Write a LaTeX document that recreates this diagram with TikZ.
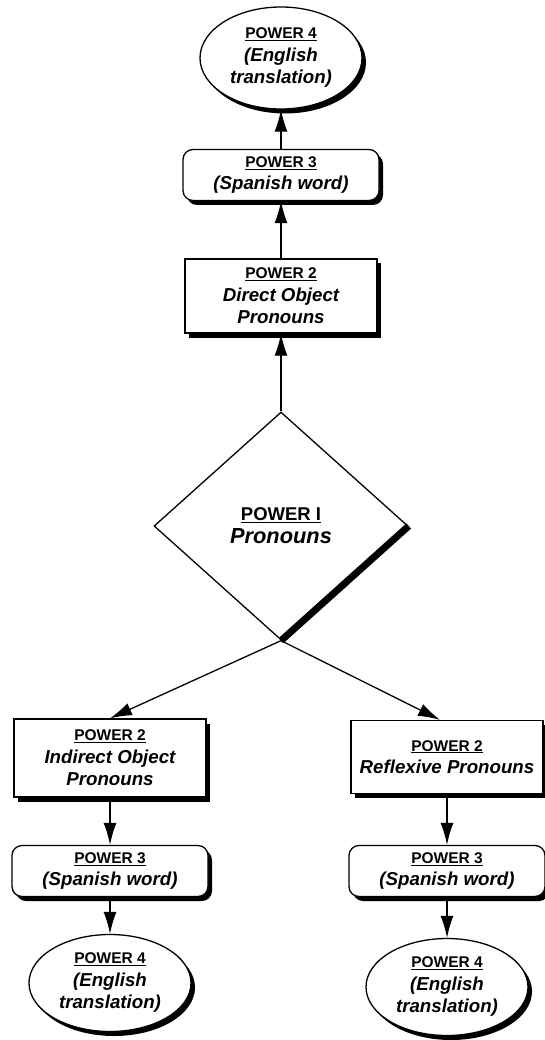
\documentclass[tikz,border=0pt]{standalone}
\usepackage{fontspec}
\setmainfont{Liberation Sans}
\usepackage{tikz}
\usetikzlibrary{shapes, arrows.meta, shadows}
\newcommand{\subfont}{\fontsize{18.7}{22.5}\selectfont\bfseries\itshape}
\newcommand{\powerlabel}[1]{{\upshape\bfseries\fontsize{15.5}{22.5}\selectfont\underline{#1}}}
\tikzstyle{boxshadow} = [drop shadow={shadow xshift=4pt, shadow yshift=-4.5pt, fill=black, opacity=1}]
\tikzstyle{pone} = [diamond, draw, fill=white, line width=1.3pt, minimum width=254pt, minimum height=228pt, inner sep=0pt, align=center]
\tikzstyle{ptwo} = [rectangle, draw, fill=white, line width=1.3pt, minimum width=192pt, minimum height=74pt, inner sep=0pt, align=center, font=\subfont, boxshadow]
\tikzstyle{pthree} = [rectangle, rounded corners=10pt, draw, fill=white, line width=1.3pt, minimum width=196pt, minimum height=51pt, inner sep=0pt, align=center, font=\subfont, boxshadow]
\tikzstyle{pfour} = [ellipse, draw, fill=white, line width=1.3pt, minimum width=162pt, minimum height=102pt, inner sep=0pt, align=center, font=\subfont, boxshadow]
\tikzstyle{line} = [draw, line width=1.3pt, -{Latex[length=22pt, width=13pt]}]

\begin{document}
\begin{tikzpicture}[x=1pt, y=-1pt, node distance=115pt]
    \fill[white] (0,0) rectangle (544,1040);
    \useasboundingbox (0,0) rectangle (544,1040);

    \node[pone] (pron) at (281,526) {\powerlabel{\fontsize{18.5}{25}\selectfont POWER I}\\[5pt]{\fontsize{21.8}{25}\selectfont\bfseries\itshape Pronouns}};
    \draw[line width=7pt] (pron.east) -- (pron.south);

    % middle column
    \node[ptwo, above of=pron, node distance=230pt] (direct) {\powerlabel{POWER 2}\\ Direct Object\\ Pronouns};
    \node[pthree, above of=direct, node distance=121pt] (spanA) {\powerlabel{POWER 3}\\ (Spanish word)};
    \node[pfour, above of=spanA, node distance=117pt] (engA) {\powerlabel{POWER 4}\\ (English\\ translation)};

    % left column
    \node[ptwo, minimum height=78pt] (indirect) at (110,758) {\powerlabel{POWER 2}\\ Indirect Object\\ Pronouns};
    \node[pthree, below of=indirect, node distance=113pt] (spanB) {\powerlabel{POWER 3}\\ (Spanish word)};
    \node[pfour, minimum height=97pt, below of=spanB, node distance=112pt] (engB) {\powerlabel{POWER 4}\\ (English\\ translation)};

    % right column
    \node[ptwo, minimum height=73pt] (reflex) at (447,757) {\powerlabel{POWER 2}\\ Reflexive Pronouns};
    \node[pthree, below of=reflex, node distance=114pt] (spanC) {\powerlabel{POWER 3}\\ (Spanish word)};
    \node[pfour, minimum height=97pt, below of=spanC, node distance=116pt] (engC) {\powerlabel{POWER 4}\\ (English\\ translation)};

    \path[line] (pron.north) -- (direct.south);
    \path[line] (direct.north) -- (spanA.south);
    \path[line] (spanA.north) -- (engA.south);

    \path[line] (pron.south) -- (indirect.north);
    \path[line] (indirect.south) -- (spanB.north);
    \path[line] (spanB.south) -- (engB.north);

    \path[line] (pron.south) -- ([xshift=-7pt]reflex.north);
    \path[line] (reflex.south) -- (spanC.north);
    \path[line] (spanC.south) -- (engC.north);
\end{tikzpicture}
\end{document}
